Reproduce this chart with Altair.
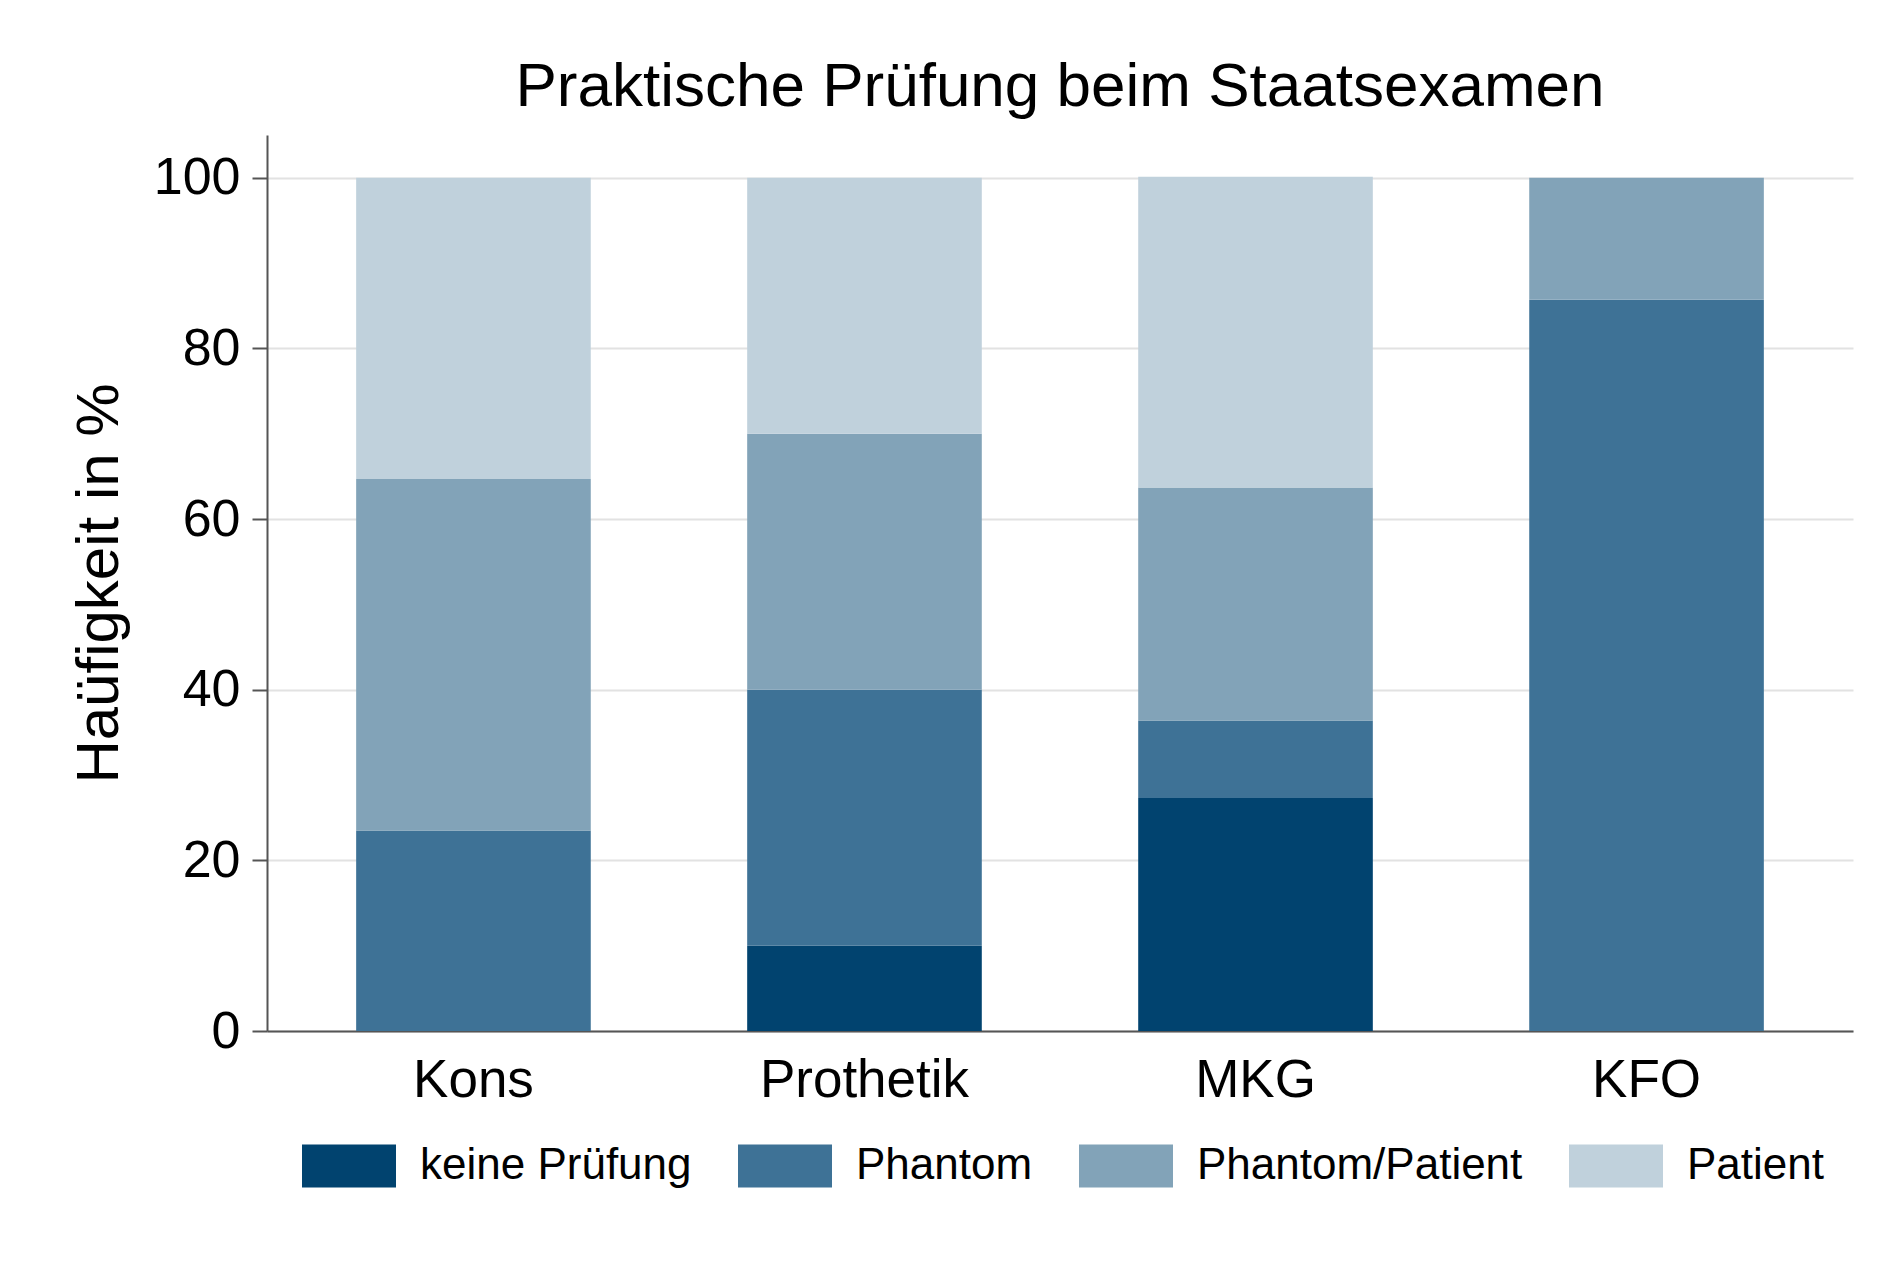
import altair as alt
import pandas as pd

categories = ["Kons", "Prothetik", "MKG", "KFO"]
series = ["keine Prüfung", "Phantom", "Phantom/Patient", "Patient"]
keine = [0, 10.0, 27.3, 0]
phantom = [23.5, 30.0, 9.1, 85.7]
phantom_patient = [41.2, 30.0, 27.3, 14.3]
patient = [35.3, 30.0, 36.4, 0]
colors = ["#01436F", "#3E7296", "#82A3B8", "#C0D1DC"]
y_ticks = [0, 20, 40, 60, 80, 100]

rows = []
for name, vals in zip(series, [keine, phantom, phantom_patient, patient]):
    for cat, v in zip(categories, vals):
        rows.append({"Fach": cat, "Antwort": name, "Wert": v, "ord": series.index(name)})
df = pd.DataFrame(rows)

FONT = "Liberation Sans"

chart = (
    alt.Chart(df)
    .mark_bar(strokeWidth=0)
    .encode(
        x=alt.X(
            "Fach:N",
            sort=categories,
            scale=alt.Scale(paddingInner=0.4, paddingOuter=0.228),
            axis=alt.Axis(
                title=None,
                labelAngle=0,
                ticks=False,
                tickSize=0,
                labelPadding=23,
                labelFontSize=53,
                labelColor="#000000",
                labelFont=FONT,
                labelLimit=800,
                domainColor="#555555",
                domainWidth=2,
                grid=False,
            ),
        ),
        y=alt.Y(
            "Wert:Q",
            stack="zero",
            scale=alt.Scale(domain=[0, 105], nice=False),
            axis=alt.Axis(
                title="Haüfigkeit in %",
                values=y_ticks,
                titleFontSize=60,
                titleFont=FONT,
                titleFontWeight="normal",
                titleColor="#000000",
                titlePadding=23,
                labelFontSize=52,
                labelFont=FONT,
                labelColor="#000000",
                labelPadding=12,
                tickSize=15,
                tickWidth=2,
                tickColor="#555555",
                domainColor="#555555",
                domainWidth=2,
                grid=True,
                gridColor="#E2E2E2",
                gridWidth=2,
            ),
        ),
        color=alt.Color(
            "Antwort:N",
            sort=series,
            scale=alt.Scale(domain=series, range=colors),
            legend=alt.Legend(
                title=None,
                orient="none",
                direction="horizontal",
                legendX=35,
                legendY=984,
                symbolType="M-1,-0.46L1,-0.46L1,0.46L-1,0.46Z",
                symbolSize=8836,
                symbolStrokeWidth=0,
                symbolOpacity=1,
                labelFontSize=44,
                labelFont=FONT,
                labelColor="#000000",
                labelOffset=24,
                columnPadding=46,
                labelLimit=600,
            ),
        ),
        order=alt.Order("ord:Q"),
    )
    .properties(
        width=1586,
        height=896,
        background="#FFFFFF",
        title=alt.TitleParams(
            "Praktische Prüfung beim Staatsexamen",
            fontSize=62,
            font=FONT,
            fontWeight="normal",
            color="#000000",
            anchor="middle",
            offset=16,
        ),
        autosize=alt.AutoSizeParams(type="none"),
        padding={"left": 259, "top": 127, "right": 30, "bottom": 200},
    )
    .configure_view(stroke=None, strokeWidth=0)
)

chart.save("out.html", embed_options={"renderer": "svg", "actions": False})
